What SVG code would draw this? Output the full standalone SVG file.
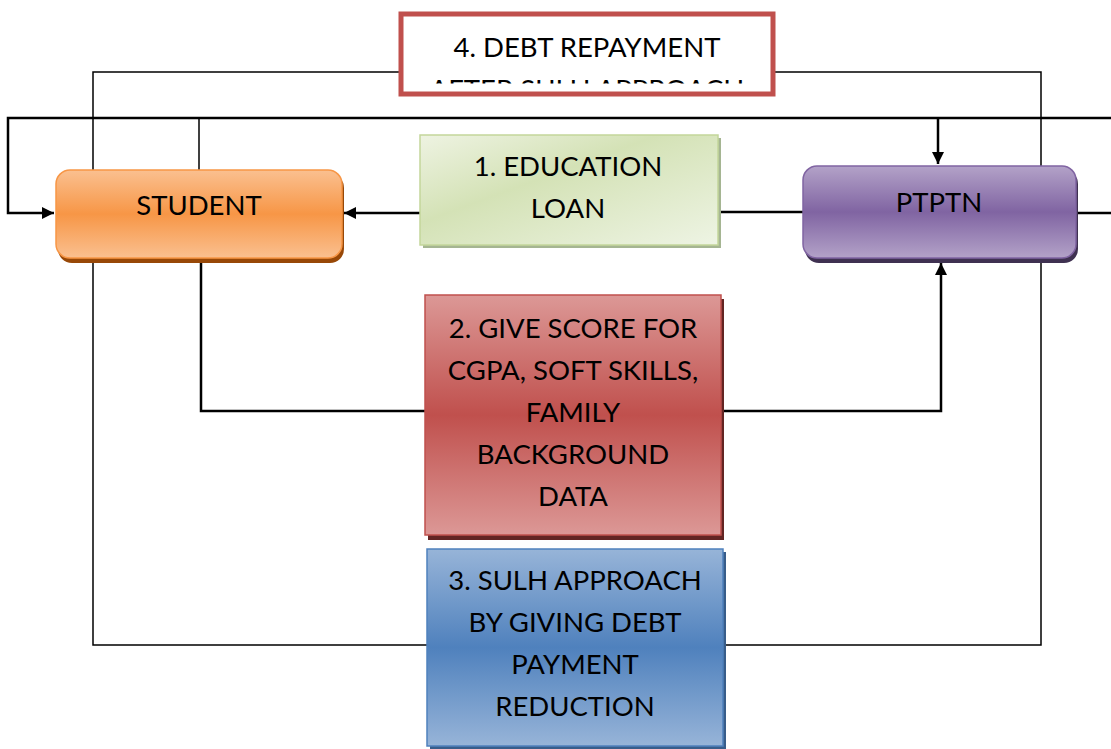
<svg xmlns="http://www.w3.org/2000/svg" width="1111" height="749" viewBox="0 0 1111 749">
<style>
text{font-family:Lato,"Liberation Sans",sans-serif;font-size:27.5px;fill:#000;text-anchor:middle}
.ln{fill:none;stroke:#000;stroke-width:1.5}
.thk{fill:none;stroke:#000;stroke-width:2.5}
</style>
<defs>
<linearGradient id="gOr" x1="0" y1="0" x2="0" y2="1"><stop offset="0" stop-color="#fac090"/><stop offset="0.5" stop-color="#f79646"/><stop offset="1" stop-color="#fac090"/></linearGradient>
<linearGradient id="gPu" x1="0" y1="0" x2="0" y2="1"><stop offset="0" stop-color="#b3a2c8"/><stop offset="0.5" stop-color="#8064a2"/><stop offset="1" stop-color="#b3a2c8"/></linearGradient>
<linearGradient id="gRe" x1="0" y1="0" x2="0" y2="1"><stop offset="0" stop-color="#dc9896"/><stop offset="0.5" stop-color="#c0504d"/><stop offset="1" stop-color="#dc9896"/></linearGradient>
<linearGradient id="gBl" x1="0" y1="0" x2="0" y2="1"><stop offset="0" stop-color="#97b4d8"/><stop offset="0.5" stop-color="#4f81bd"/><stop offset="1" stop-color="#97b4d8"/></linearGradient>
<linearGradient id="gGr" x1="0" y1="0" x2="1" y2="1"><stop offset="0" stop-color="#eef3e2"/><stop offset="0.4" stop-color="#d4e2b6"/><stop offset="1" stop-color="#eef4e4"/></linearGradient>
<marker id="ah" viewBox="0 0 10 10" refX="10" refY="5" markerWidth="12" markerHeight="12" markerUnits="userSpaceOnUse" orient="auto"><path d="M0,0L10,5L0,10z" fill="#000"/></marker>
<clipPath id="c4"><rect x="403" y="16" width="368" height="67.5"/></clipPath>
</defs>
<g id="connectors">
<path class="ln" d="M400,72H93V645H427"/>
<path class="ln" d="M774,72H1041V645H723"/>
<path class="thk" d="M1111,118H8V213H54" marker-end="url(#ah)"/>
<path class="ln" d="M199,118V170"/>
<path class="thk" d="M938,118V164" marker-end="url(#ah)"/>
<path class="thk" d="M1077,213H1111"/>
<path class="thk" d="M803,212H718"/>
<path class="thk" d="M420,213H344" marker-end="url(#ah)"/>
<path class="thk" d="M201,262V411H425"/>
<path class="thk" d="M721,411H941V263" marker-end="url(#ah)"/>
</g>
<g id="student">
<rect x="58" y="174" width="286" height="89" rx="14" fill="#984807"/>
<rect x="56" y="170" width="286" height="88" rx="14" fill="url(#gOr)" stroke="#f79646" stroke-width="1.5"/>
<text x="199" y="215">STUDENT</text>
</g>
<g id="ptptn">
<rect x="805" y="170" width="273" height="93" rx="14" fill="#3f3151"/>
<rect x="803" y="166" width="273" height="92" rx="14" fill="url(#gPu)" stroke="#8064a2" stroke-width="1.5"/>
<text x="939" y="212">PTPTN</text>
</g>
<g id="box1">
<rect x="423" y="138" width="298" height="110" fill="#a5b592"/>
<rect x="420" y="135" width="298" height="110" fill="url(#gGr)" stroke="#c3d69b" stroke-width="1.5"/>
<text x="568" y="176">1. EDUCATION</text>
<text x="568" y="218">LOAN</text>
</g>
<g id="box2">
<rect x="428" y="299" width="296" height="241" fill="#632523"/>
<rect x="425" y="295" width="296" height="240" fill="url(#gRe)" stroke="#c0504d" stroke-width="1.5"/>
<text x="573" y="338">2. GIVE SCORE FOR</text>
<text x="573" y="380">CGPA, SOFT SKILLS,</text>
<text x="573" y="422">FAMILY</text>
<text x="573" y="464">BACKGROUND</text>
<text x="573" y="506">DATA</text>
</g>
<g id="box3">
<rect x="430" y="552" width="296" height="197" fill="#385d8a"/>
<rect x="427" y="549" width="296" height="197" fill="url(#gBl)" stroke="#4f81bd" stroke-width="1.5"/>
<text x="575" y="590">3. SULH APPROACH</text>
<text x="575" y="632">BY GIVING DEBT</text>
<text x="575" y="674">PAYMENT</text>
<text x="575" y="716">REDUCTION</text>
</g>
<g id="box4">
<rect x="401" y="14" width="372" height="80" fill="#fff" stroke="#c0504d" stroke-width="5"/>
<text x="587" y="57">4. DEBT REPAYMENT</text>
<g clip-path="url(#c4)"><text x="587" y="99">AFTER SULH APPROACH</text></g>
</g>
</svg>
